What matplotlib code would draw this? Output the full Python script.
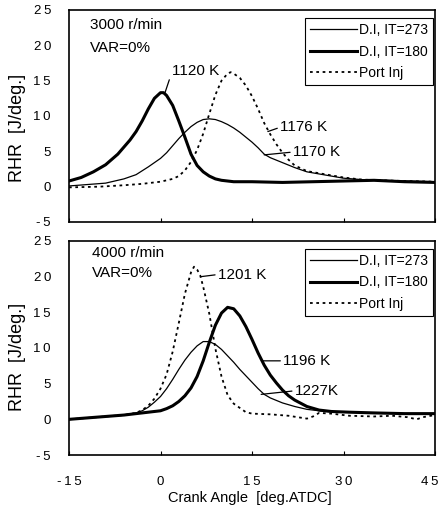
import matplotlib
matplotlib.use("Agg")
import matplotlib.pyplot as plt
import matplotlib.transforms as mtransforms
from matplotlib.ticker import FuncFormatter

plt.rcParams['font.family'] = ['Liberation Sans', 'DejaVu Sans']

# ---- Data: 3000 r/min ----
top_it180_x = [-15, -13, -11, -9, -7, -5, -4, -3, -2, -1, 0, 0.5, 1, 2, 3, 4, 5, 6, 7, 8, 9, 10, 12, 15, 20, 25, 30, 35, 40, 45]
top_it180_y = [0.8, 1.3, 2.1, 3.1, 4.6, 6.6, 7.8, 9.3, 11.0, 12.5, 13.3, 13.3, 12.9, 11.5, 9.3, 7.0, 4.6, 3.0, 2.1, 1.5, 1.1, 0.9, 0.7, 0.7, 0.6, 0.7, 0.8, 0.9, 0.7, 0.6]

top_it273_x = [-15, -12, -9, -6, -4, -2, 0, 1, 2, 3, 4, 5, 6, 7, 8, 9, 10, 11, 12, 13, 14, 15, 16, 17, 18, 20, 22, 24, 26, 28, 30, 33, 36, 40, 45]
top_it273_y = [0.1, 0.3, 0.5, 1.1, 1.7, 2.8, 4.0, 4.8, 5.8, 6.8, 7.7, 8.5, 9.1, 9.5, 9.6, 9.5, 9.2, 8.8, 8.3, 7.7, 7.0, 6.3, 5.5, 4.6, 4.1, 3.4, 2.7, 2.1, 1.8, 1.5, 1.2, 1.0, 0.9, 0.8, 0.7]

top_port_x = [-15, -10, -6, -3, 0, 2, 3, 4, 5, 6, 7, 8, 9, 10, 11, 11.5, 12, 13, 14, 15, 16, 17, 18, 19, 20, 21, 22, 24, 26, 28, 30, 33, 36, 40, 45]
top_port_y = [-0.1, 0.0, 0.2, 0.4, 0.7, 1.1, 1.5, 2.3, 3.5, 5.2, 7.5, 10.3, 13.0, 15.0, 16.0, 16.2, 16.0, 15.4, 14.3, 12.8, 11.0, 9.0, 7.4, 6.0, 4.8, 3.8, 3.0, 2.2, 1.9, 1.6, 1.3, 1.0, 0.9, 0.8, 0.7]

# ---- Data: 4000 r/min ----
bot_it180_x = [-15, -12, -9, -6, -3, 0, 1, 2, 3, 4, 5, 6, 7, 8, 9, 10, 11, 12, 13, 14, 15, 16, 17, 18, 19, 20, 21, 22, 24, 26, 28, 31, 35, 40, 45]
bot_it180_y = [0.0, 0.2, 0.4, 0.6, 0.9, 1.2, 1.5, 1.9, 2.5, 3.3, 4.4, 6.0, 8.2, 10.8, 13.2, 14.9, 15.7, 15.5, 14.5, 13.0, 11.2, 9.3, 7.6, 6.2, 5.1, 4.1, 3.3, 2.7, 1.8, 1.3, 1.1, 1.0, 0.9, 0.8, 0.8]

bot_it273_x = [-15, -12, -9, -6, -4, -3, -2, -1, 0, 1, 2, 3, 4, 5, 6, 7, 8, 9, 10, 11, 12, 13, 14, 15, 16, 17, 18, 20, 22, 24, 27, 30, 35, 40, 45]
bot_it273_y = [0.0, 0.2, 0.4, 0.6, 0.9, 1.2, 1.7, 2.4, 3.2, 4.3, 5.6, 7.0, 8.3, 9.4, 10.3, 10.9, 10.9, 10.5, 9.8, 8.9, 8.0, 7.0, 6.1, 5.2, 4.3, 3.5, 3.0, 2.3, 1.8, 1.4, 1.1, 1.0, 0.9, 0.8, 0.8]

bot_port_x = [-15, -12, -9, -6, -4, -3, -2, -1, 0, 1, 2, 3, 4, 5, 5.5, 6, 6.5, 7, 8, 9, 10, 11, 12, 13, 14, 15, 18, 21, 24, 25, 26, 28, 31, 35, 38, 40.5, 42, 43, 45]
bot_port_y = [0.0, 0.2, 0.4, 0.6, 0.9, 1.3, 1.9, 2.9, 4.3, 6.3, 9.5, 13.5, 17.6, 20.6, 21.4, 21.0, 20.2, 18.6, 14.8, 9.9, 6.0, 3.4, 2.2, 1.6, 1.0, 0.8, 0.7, 0.5, 0.1, 0.4, 0.9, 0.8, 0.5, 0.4, 0.5, 0.3, 0.0, 0.3, 0.6]

legend_labels = ["D.I, IT=273", "D.I, IT=180", "Port Inj"]
speed_labels = ["3000 r/min", "4000 r/min"]
var_label = "VAR=0%"
x_ticks = [-15, 0, 15, 30, 45]
y_ticks = [-5, 0, 5, 10, 15, 20, 25]

fig = plt.figure(figsize=(4.41, 5.16), dpi=100)
W, H = 441, 516
def axes_rect(l, r, t, b):
    return [l / W, 1 - b / H, (r - l) / W, (b - t) / H]

ax1 = fig.add_axes(axes_rect(69, 435, 10, 222))
ax2 = fig.add_axes(axes_rect(69, 435, 241, 455))

fmt = FuncFormatter(lambda v, p: "\u2009".join(str(int(v))))

def style(ax, show_x):
    ax.set_xlim(-15, 45)
    ax.set_ylim(-5, 25)
    ax.set_xticks(x_ticks)
    ax.set_yticks(y_ticks)
    ax.yaxis.set_major_formatter(fmt)
    ax.xaxis.set_major_formatter(fmt)
    ax.tick_params(axis='y', length=0, pad=13, labelsize=9.5)
    ax.tick_params(axis='x', direction='in', length=3, width=0.8, pad=15, labelsize=9.5,
                   labelbottom=show_x)
    for s in ax.spines.values():
        s.set_linewidth(1.2)

def draw(ax, x273, y273, x180, y180, xp, yp, legend_top):
    l1, = ax.plot(x273, y273, color='black', lw=0.9)
    l2, = ax.plot(x180, y180, color='black', lw=2.2)
    l3, = ax.plot(xp, yp, color='black', lw=1.3, ls=(0, (1.5, 2)))
    leg = ax.legend([l1, l2, l3], legend_labels, loc='upper right',
                    bbox_to_anchor=(0.995, legend_top), fontsize=10, frameon=True,
                    fancybox=False, edgecolor='black', framealpha=1,
                    handlelength=3.4, handletextpad=0.15, labelspacing=0.55,
                    borderpad=0.35, borderaxespad=0)
    leg.get_frame().set_linewidth(0.8)

style(ax1, False)
style(ax2, True)
draw(ax1, top_it273_x, top_it273_y, top_it180_x, top_it180_y, top_port_x, top_port_y, 0.962)
draw(ax2, bot_it273_x, bot_it273_y, bot_it180_x, bot_it180_y, bot_port_x, bot_port_y, 0.963)

# keep the last x tick label inside the figure
fig.canvas.draw()
last = ax2.get_xticklabels()[-1]
last.set_transform(last.get_transform() + mtransforms.ScaledTranslation(-5 / 100, 0, fig.dpi_scale_trans))

ax1.text(0.057, 0.929, speed_labels[0], transform=ax1.transAxes, fontsize=11, va='center', ha='left')
ax1.text(0.057, 0.82, var_label, transform=ax1.transAxes, fontsize=11, va='center', ha='left')
ax2.text(0.063, 0.944, speed_labels[1], transform=ax2.transAxes, fontsize=11, va='center', ha='left')
ax2.text(0.063, 0.85, var_label, transform=ax2.transAxes, fontsize=11, va='center', ha='left')

def ann(ax, text, xy, xytext):
    ax.annotate(text, xy=xy, xytext=xytext, fontsize=11, ha='left', va='center',
                arrowprops=dict(arrowstyle='-', color='black', lw=0.9, shrinkA=0, shrinkB=0,
                                relpos=(0, 0.5)))

ann(ax1, "1120 K", (0.7, 13.2), (1.9, 16.3))
ann(ax1, "1176 K", (17.6, 7.8), (19.6, 8.4))
ann(ax1, "1170 K", (17.0, 4.5), (21.7, 4.9))
ann(ax2, "1201 K", (6.6, 20.0), (9.4, 20.3))
ann(ax2, "1196 K", (16.6, 8.2), (20.1, 8.2))
ann(ax2, "1227K", (16.5, 3.5), (22.0, 4.0))

fig.text(18 / W, 1 - 128 / H, "RHR  [J/deg.]", rotation=90, fontsize=13, ha='center', va='center')
fig.text(18 / W, 1 - 357 / H, "RHR  [J/deg.]", rotation=90, fontsize=13, ha='center', va='center')
fig.text(250 / W, 1 - 498 / H, "Crank Angle  [deg.ATDC]", fontsize=10.5, ha='center', va='center')

fig.savefig("out.png", dpi=100)
